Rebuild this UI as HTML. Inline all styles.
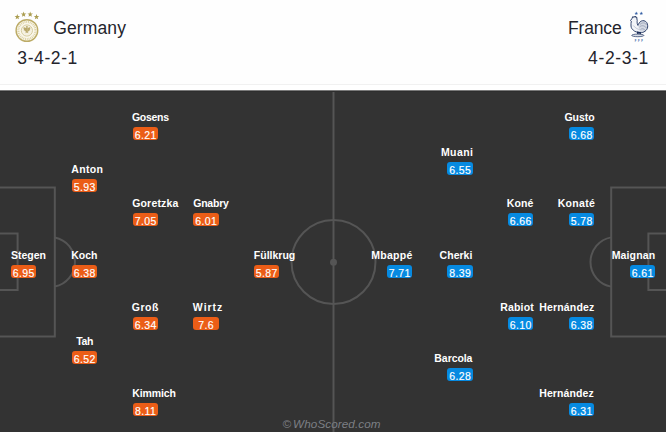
<!DOCTYPE html>
<html><head><meta charset="utf-8">
<style>
html,body{margin:0;padding:0;}
body{width:666px;height:432px;overflow:hidden;position:relative;background:#fff;font-family:"Liberation Sans",Arial,sans-serif;}
#hdr{position:absolute;left:0;top:0;width:666px;height:84px;background:#fefefe;}
#hline{position:absolute;left:0;top:84px;width:666px;height:1px;background:#f1f1f1;}
#pitch{position:absolute;left:0;top:90px;width:666px;height:342px;background:#333333;}
.tn{position:absolute;font-size:17.5px;color:#24242c;line-height:20px;white-space:nowrap;}
.fm{position:absolute;font-size:17.5px;color:#24242c;line-height:20px;white-space:nowrap;}
.n{position:absolute;font-weight:bold;font-size:10.5px;line-height:12px;color:#fff;white-space:nowrap;}
.r{position:absolute;height:13px;width:25px;border-radius:3px;color:#fff;font-size:10.5px;line-height:17px;text-align:center;letter-spacing:0.4px;text-indent:0.4px;-webkit-text-stroke:0.15px #fff;}
.r.h{background:#eb5d17;}
.r.a{background:#068ae1;}
#wm{position:absolute;left:282.5px;top:417px;font-style:italic;font-size:11.7px;word-spacing:-1.4px;letter-spacing:0.08px;color:#7c7f84;white-space:nowrap;}
svg{position:absolute;left:0;top:0;}
</style></head><body>
<div id="hdr"></div>
<div id="hline"></div>
<div id="pitch"></div>
<svg width="666" height="432" viewBox="0 0 666 432">
 <rect x="0" y="90" width="666" height="1" fill="#7a7a7a"/><rect x="0" y="91" width="666" height="1" fill="#2e2e2e"/>
 <g fill="none" stroke="#555" stroke-width="2">
  <line x1="333.5" y1="92" x2="333.5" y2="432"/>
  <circle cx="333.5" cy="262" r="42"/>
  <path d="M-5 187.5 H54.8 V336.5 H-5"/>
  <path d="M-5 233.5 H17.6 V290 H-5"/>
  <path d="M54.8 237.47 A25 25 0 0 1 54.8 286.53"/>
  <path d="M671 187.5 H611.2 V336.5 H671"/>
  <path d="M671 233.5 H648.4 V290 H671"/>
  <path d="M611.2 237.37 A25 25 0 0 0 611.2 286.63"/>
 </g>
 <circle cx="333.5" cy="262.3" r="3.5" fill="#555"/>
</svg>
<svg width="666" height="60" viewBox="0 0 666 60" style="position:absolute;left:0;top:0">
 <g fill="#ab9d50"><polygon points="17.30,14.10 18.01,16.03 20.06,16.10 18.44,17.37 19.00,19.35 17.30,18.20 15.60,19.35 16.16,17.37 14.54,16.10 16.59,16.03"/><polygon points="23.60,11.60 24.31,13.53 26.36,13.60 24.74,14.87 25.30,16.85 23.60,15.70 21.90,16.85 22.46,14.87 20.84,13.60 22.89,13.53"/><polygon points="30.20,11.60 30.91,13.53 32.96,13.60 31.34,14.87 31.90,16.85 30.20,15.70 28.50,16.85 29.06,14.87 27.44,13.60 29.49,13.53"/><polygon points="36.50,14.10 37.21,16.03 39.26,16.10 37.64,17.37 38.20,19.35 36.50,18.20 34.80,19.35 35.36,17.37 33.74,16.10 35.79,16.03"/></g>
 <circle cx="26.9" cy="30.5" r="10.8" fill="#faf7ec" stroke="#bcab66" stroke-width="1.4"/>
 <circle cx="26.9" cy="30.5" r="8.6" fill="none" stroke="#dbd1a3" stroke-width="2.2" stroke-dasharray="0.9 0.9"/>
 <circle cx="26.9" cy="30.5" r="5.6" fill="#f5f1e2" stroke="#d3c897" stroke-width="0.9"/>
 <g fill="#b9a96c"><circle cx="26.9" cy="26.9" r="0.95"/><path d="M26.1,27.9 L23.4,27.1 L23.9,28.2 L23.2,28.8 L24.1,29.5 L23.6,30.3 L24.6,30.5 L25.3,31.4 L26.1,31.2 Z"/><path d="M27.7,27.9 L30.4,27.1 L29.9,28.2 L30.6,28.8 L29.7,29.5 L30.2,30.3 L29.2,30.5 L28.5,31.4 L27.7,31.2 Z"/><path d="M26,27.8 H27.8 V31.6 L28.4,33.2 L26.9,32.6 L25.4,33.2 L26,31.6 Z"/></g>
</svg>
<svg width="40" height="46" viewBox="0 0 40 46" style="position:absolute;left:620px;top:0">
 <g transform="translate(8,10)">
 <g fill="#3560a6"><polygon points="8.30,1.60 8.77,2.85 10.11,2.91 9.06,3.75 9.42,5.04 8.30,4.30 7.18,5.04 7.54,3.75 6.49,2.91 7.83,2.85"/><polygon points="13.30,1.60 13.77,2.85 15.11,2.91 14.06,3.75 14.42,5.04 13.30,4.30 12.18,5.04 12.54,3.75 11.49,2.91 12.83,2.85"/></g>
 <path d="M3.5,9.5 L2.4,10.3 L3.3,11.2 C3.0,12.6 2.9,14.5 3.0,16 C3.2,18 4.1,19.3 5.2,20 C6,21 7.2,21.7 8.6,22 L13.5,22.6 C15,22.6 16.9,21.6 18,20.4 C19.3,19 19.8,17.5 19.7,15.8 C19.6,13.5 18.5,11.3 16,10.7 C14,10.4 12.3,11.3 11.3,12.8 C10.6,13.8 10.2,14.8 9.9,15.4 C9.3,14.6 9.1,13 9.1,11.8 C9.2,10.8 9.4,9.9 8.9,9 L8.9,7.4 L8.2,7.8 L7.7,6.1 L6.9,7.3 L6.1,6.2 L5.4,7.4 L4.5,6.8 L4.3,8.1 C3.8,8.5 3.6,9 3.5,9.5 Z" fill="#f2f4f8"/>
 <path d="M10,15.4 C11,12.5 13,10.7 16,10.7 C18.5,11.3 19.6,13.5 19.7,15.8 C19.8,17.5 19.3,19 18,20.4 C16.9,21.6 15,22.6 13.5,22.6 L12,22.3 C11.5,20 10.8,17.5 10,15.4 Z" fill="#d4d9e3"/>
 <path d="M12,14.5 C14,12.3 17,12.3 18.6,15 M11.5,17 C13.5,15 16.5,15.3 18.5,18 M12.5,19.5 C14,18.2 16,18.5 17.3,20.5" fill="none" stroke="#7f8aa2" stroke-width="0.6"/>
 <path d="M5.2,15.4 C6.8,17.6 9.2,19 11.6,19.6" fill="none" stroke="#a3abbd" stroke-width="0.6"/>
 <path d="M3.5,9.5 L2.4,10.3 L3.3,11.2 C3.0,12.6 2.9,14.5 3.0,16 C3.2,18 4.1,19.3 5.2,20 C6,21 7.2,21.7 8.6,22 L13.5,22.6 C15,22.6 16.9,21.6 18,20.4 C19.3,19 19.8,17.5 19.7,15.8 C19.6,13.5 18.5,11.3 16,10.7 C14,10.4 12.3,11.3 11.3,12.8 C10.6,13.8 10.2,14.8 9.9,15.4 C9.3,14.6 9.1,13 9.1,11.8 C9.2,10.8 9.4,9.9 8.9,9 L8.9,7.4 L8.2,7.8 L7.7,6.1 L6.9,7.3 L6.1,6.2 L5.4,7.4 L4.5,6.8 L4.3,8.1 C3.8,8.5 3.6,9 3.5,9.5 Z" fill="none" stroke="#1f3360" stroke-width="0.9" stroke-linejoin="round"/>
 <path d="M8.8,21.6 L9.3,24.4 L10.5,24.4 L10.9,22.6 L11.7,24.4 L13,24.4 L12.8,22.2 Z" fill="#1b2c57"/>
 <ellipse cx="9.8" cy="25.4" rx="6.1" ry="1.3" fill="#d9dee7" stroke="#1f3360" stroke-width="0.7"/>
 <text x="11.6" y="31.7" font-family="Liberation Sans,sans-serif" font-size="2.6" font-weight="bold" fill="#3560a6" text-anchor="middle" letter-spacing="1.6">FFF</text>
 </g>
</svg>
<div class="tn" style="left:53.26px;top:18px;letter-spacing:0.12px">Germany</div>
<div class="fm" style="left:17.3px;top:47.5px;letter-spacing:0.6px">3-4-2-1</div>
<div class="tn" style="left:567.95px;top:18px;letter-spacing:-0.14px">France</div>
<div class="fm" style="left:588.1px;top:47.5px;letter-spacing:0.62px">4-2-3-1</div>

<div class="n" style="left:10.91px;top:249px;letter-spacing:0.01px">Stegen</div>
<div class="r h" style="left:11px;top:265px;width:25px">6.95</div>
<div class="n" style="left:71.36px;top:163px;letter-spacing:0.30px">Anton</div>
<div class="r h" style="left:72px;top:179px;width:25px">5.93</div>
<div class="n" style="left:71.26px;top:249px;letter-spacing:-0.04px">Koch</div>
<div class="r h" style="left:72px;top:265px;width:25px">6.38</div>
<div class="n" style="left:76.18px;top:335px;letter-spacing:-0.32px">Tah</div>
<div class="r h" style="left:72px;top:351px;width:25px">6.52</div>
<div class="n" style="left:132.01px;top:111px;letter-spacing:-0.30px">Gosens</div>
<div class="r h" style="left:133px;top:127px;width:25px">6.21</div>
<div class="n" style="left:132.21px;top:197px;letter-spacing:0.17px">Goretzka</div>
<div class="r h" style="left:133px;top:213px;width:25px">7.05</div>
<div class="n" style="left:131.81px;top:301px;letter-spacing:0.51px">Groß</div>
<div class="r h" style="left:133px;top:317px;width:25px">6.34</div>
<div class="n" style="left:132.16px;top:387px;letter-spacing:-0.09px">Kimmich</div>
<div class="r h" style="left:133px;top:403px;width:25px">8.11</div>
<div class="n" style="left:193.21px;top:197px;letter-spacing:-0.21px">Gnabry</div>
<div class="r h" style="left:193px;top:213px;width:26px">6.01</div>
<div class="n" style="left:192.83px;top:301px;letter-spacing:0.98px">Wirtz</div>
<div class="r h" style="left:193px;top:317px;width:26px">7.6</div>
<div class="n" style="left:253.86px;top:249px;letter-spacing:-0.01px">Füllkrug</div>
<div class="r h" style="left:254px;top:265px;width:25px">5.87</div>
<div class="n" style="left:611.76px;top:249px;letter-spacing:0.12px">Maignan</div>
<div class="r a" style="left:630px;top:265px;width:25px">6.61</div>
<div class="n" style="left:564.41px;top:111px;letter-spacing:0.01px">Gusto</div>
<div class="r a" style="left:569px;top:127px;width:25px">6.68</div>
<div class="n" style="left:557.66px;top:197px;letter-spacing:0.31px">Konaté</div>
<div class="r a" style="left:569px;top:213px;width:25px">5.78</div>
<div class="n" style="left:539.26px;top:301px;letter-spacing:0.16px">Hernández</div>
<div class="r a" style="left:569px;top:317px;width:25px">6.38</div>
<div class="n" style="left:539.26px;top:387px;letter-spacing:0.10px">Hernández</div>
<div class="r a" style="left:569px;top:403px;width:25px">6.31</div>
<div class="n" style="left:506.86px;top:197px;letter-spacing:0.09px">Koné</div>
<div class="r a" style="left:508px;top:213px;width:25px">6.66</div>
<div class="n" style="left:500.36px;top:301px;letter-spacing:0.13px">Rabiot</div>
<div class="r a" style="left:508px;top:317px;width:25px">6.10</div>
<div class="n" style="left:440.96px;top:146px;letter-spacing:0.42px">Muani</div>
<div class="r a" style="left:447px;top:162px;width:26px">6.55</div>
<div class="n" style="left:439.61px;top:249px;letter-spacing:0.01px">Cherki</div>
<div class="r a" style="left:447px;top:265px;width:26px">8.39</div>
<div class="n" style="left:434.36px;top:352px;letter-spacing:-0.07px">Barcola</div>
<div class="r a" style="left:447px;top:368px;width:26px">6.28</div>
<div class="n" style="left:371.36px;top:249px;letter-spacing:0.25px">Mbappé</div>
<div class="r a" style="left:387px;top:265px;width:25px">7.71</div>

<div id="wm">© WhoScored.com</div>
</body></html>
